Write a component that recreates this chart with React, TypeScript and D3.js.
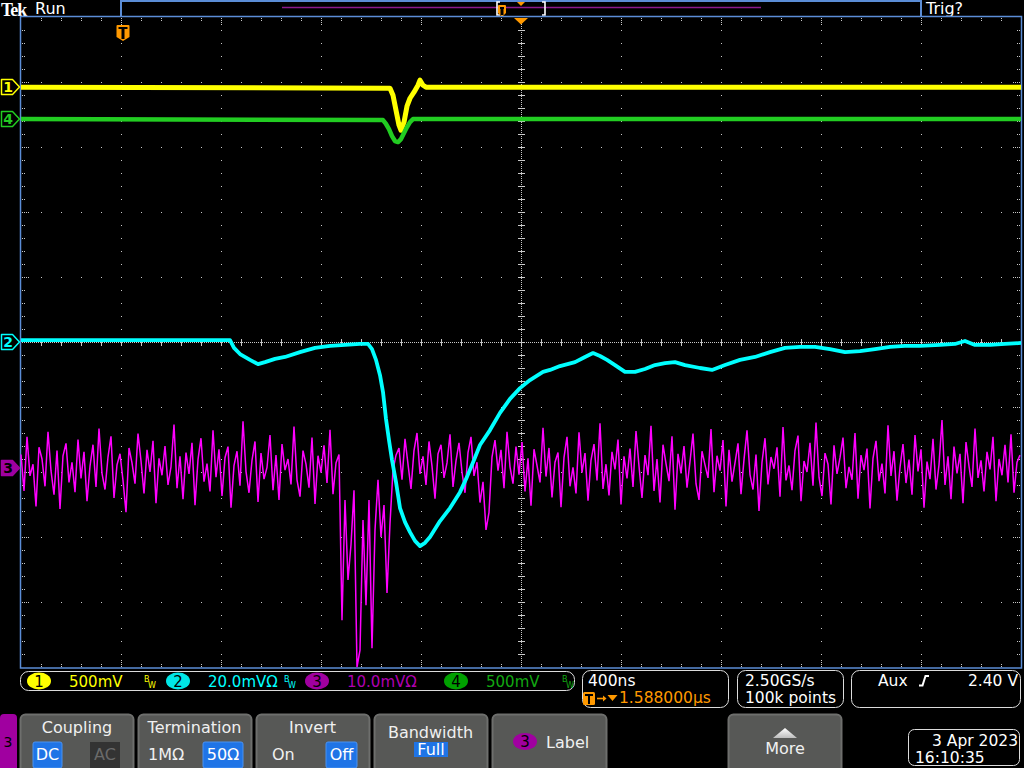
import React from "react";
import * as d3 from "d3";

// ---------- data ----------
// time axis: 400 ns/div, 10 div -> 0..4000 ns across the screen
const timeSpanNs = [0, 4000];

// channel positions (divisions from centre) and scales (mV/div)
const ch1Pos = 3.92;
const ch4Pos = 3.43;
const ch2Pos = 0;
const ch3Pos = -1.94;
const ch1Scale = 500;
const ch2Scale = 20;
const ch3Scale = 10;
const ch4Scale = 500;

// CH1 (yellow) – ns / mV
const ch1Times = [0, 1476, 1488, 1500, 1512, 1520, 1532, 1544, 1556, 1572, 1588, 1596, 1608, 1620, 4000];
const ch1mV = [0, -8, -62, -177, -292, -331, -269, -146, -85, -38, 15, 54, 15, 0, 0];

// CH4 (green)
const ch4Times = [0, 1448, 1460, 1472, 1484, 1496, 1508, 1520, 1532, 1544, 1556, 1568, 4000];
const ch4mV = [0, -8, -38, -77, -131, -169, -177, -154, -108, -62, -23, 0, 0];

// CH2 (cyan)
const ch2Times = [0, 836, 852, 876, 916, 948, 976, 1016, 1056, 1116, 1176, 1236, 1296, 1356, 1388, 1404, 1420, 1436, 1448, 1460,
  1472, 1484, 1500, 1516, 1536, 1556, 1576, 1596, 1616, 1636, 1676, 1716, 1756, 1784, 1812, 1836, 1876, 1916, 1956, 1996,
  2036, 2088, 2116, 2156, 2216, 2256, 2288, 2316, 2344, 2376, 2416, 2456, 2496, 2536, 2576, 2616, 2656, 2716, 2764, 2816,
  2876, 2936, 2996, 3056, 3116, 3176, 3236, 3296, 3356, 3416, 3476, 3536, 3596, 3676, 3736, 3776, 3816, 3876, 3936, 4000];
const ch2mV = [0.6, 0.6, -1.8, -3.7, -5.5, -6.8, -6.2, -5.2, -4.6, -3.1, -1.8, -1.2, -0.9, -0.6, -0.6, -2.2, -5.5, -10.2, -15.4, -23.7,
  -30.2, -36.3, -43.1, -51.1, -55.4, -58.5, -61.2, -62.8, -61.8, -60.0, -55.1, -51.1, -46.2, -41.5, -36.3, -31.7, -27.1, -21.8, -17.5, -14.2,
  -11.7, -9.2, -8.6, -7.4, -6.2, -4.6, -3.4, -4.3, -5.5, -7.1, -9.2, -9.2, -8.3, -7.1, -6.5, -6.2, -7.1, -8.0, -8.6, -7.1,
  -5.5, -4.6, -3.1, -1.8, -1.5, -1.5, -2.2, -3.1, -2.8, -2.2, -1.5, -1.2, -1.2, -0.9, -0.6, 0.3, -0.9, -0.9, -0.6, -0.3];

// CH3 (magenta) – one sample every 12 ns, mV
const ch3StepNs = 12;
const ch3mV = [
  2.1, -3.5, 4.8, -1.2, 0.6, -5.9, 3.2, 1.4, -2.8, 5.6, -0.4, -4.1, 2.7, -6.3, 1.9, 3.8, -2.2, 0.9, -3.7, 4.4,
  -1.6, 2.5, -5.1, 0.3, 3.6, -2.9, 6.1, -0.8, -3.3, 1.7, 4.9, -4.6, 0.5, 2.2, -1.9, -6.8, 3.1, 0.8, -2.4, 5.3,
  1.1, -3.9, 2.8, -0.6, 4.2, -5.4, 1.5, -1.1, 3.4, -2.6, 0.2, 6.7, -3.1, 1.8, -4.8, 2.4, -0.9, 3.9, -5.7, 1.3,
  4.6, -2.1, 0.7, -3.6, 5.8, -1.4, 2.9, -4.3, 1.6, 3.3, -6.1, 0.4, 2.6, -2.7, 7.2, -0.5, -3.8, 1.2, 4.1, -5.2,
  2.3, -1.7, 0.1, 5.1, -3.4, 2.0, -4.9, 3.7, -0.3, 1.4, -2.5, 6.4, -1.8, -4.4, 2.7, 0.6, -3.0, 4.7, -5.5, 1.9,
  -0.7, 3.5, -2.3, 5.9, -4.0, 0.8, 2.1,
  -23.4, -4.9, -17.2, -11.8, -3.4, -30.6, -28.0, -8.0, -21.1, -4.9, -27.7, -9.5, -1.8, -10.6, -5.7, -19.2, -8.5, -0.3, 2.0,
  3.1, -1.8, 4.5, 0.6, -3.2, 2.7, 5.4, -0.9, 1.8, -2.6, 4.1, 0.3, -4.7, 2.2, 3.6, -1.5, 0.8, 5.2, -2.9, 1.1,
  3.9, -0.6, -3.8, 2.4, 4.8, -1.2, 0.9, -5.3, -2.1, -9.5, -6.8, 1.7, 4.3, -0.4, 2.8, -3.1, 5.6, 0.2, -2.4, 3.3,
  -1.0,
  4.0, -3.6, 1.5, -5.8, 2.9, 0.4, -2.2, 6.2, -1.3, 3.1, -4.5, 0.9, 2.4, -6.0, 1.6, 4.8, -2.8, 0.1, -3.9, 5.5,
  -0.7, 2.3, -5.0, 1.2, 3.7, -1.9, 6.9, -3.2, 0.6, -4.2, 2.5, -0.2, 4.4, -5.6, 1.8, -1.6, 3.0, -2.9, 5.7, 0.3,
  -4.6, 2.0, -1.1, 6.5, -3.5, 1.4, -5.3, 3.6, 0.7, -2.0, 4.9, -6.4, 2.2, -0.8, 3.4, -3.0, 1.0, 5.3, -2.4, -4.9,
  2.6, 0.5, -1.5, 6.0, -3.7, 1.9, -0.4, 4.3, -5.9, 2.8, -2.1, 0.8, 3.8, -4.0, 1.3, 5.8, -1.0, -3.3, 2.1, -6.6,
  0.9, 4.6, -2.5, 1.7, -0.1, 3.2, -4.4, 6.3, -1.9, 0.4, -3.4, 2.7, 5.0, -5.1, 1.1, -0.6, 3.9, -2.7, 7.0, -1.4,
  -4.3, 2.3, 0.6, -5.6, 3.5, -0.9, 1.6, 4.7, -3.1, 0.2, -1.8, 5.4, -4.7, 2.0, -0.3, 3.0, -6.2, 1.5, 4.2, -2.0,
  0.7, -3.9, 6.6, -1.2, 2.6, -5.0, 0.1, 3.7, -2.3, 1.3, -4.1, 5.1, -0.5, 2.9, -6.1, 1.0, -1.7, 4.5, -3.3, 0.5,
  7.4, -2.6, 1.8, -4.8, 3.3, -0.8, 2.2, -5.4, 4.0, 0.3, -2.9, 6.1, -1.5, 1.2, -3.6, 2.5, -0.2, 4.8, -5.1, 1.4,
  -1.1, 3.6, -2.2, 5.2, -3.8, 0.9, 2.0,
];

// labels
const statusChannels = [
  { n: "1", text: "500mV", bw: true },
  { n: "2", text: "20.0mVΩ", bw: true },
  { n: "3", text: "10.0mVΩ", bw: false },
  { n: "4", text: "500mV", bw: true },
];
const timebaseText = "400ns";
const triggerPosText = "1.588000µs";
const sampleRateText = "2.50GS/s";
const recordText = "100k points";
const triggerSource = "Aux";
const triggerLevel = "2.40 V";
const dateText = "3 Apr 2023";
const timeText = "16:10:35";

// ---------- layout ----------
const PL = 21, PR = 1021, PT = 17, PB = 667;
const YEL = "#ffff00", CYN = "#00ffff", MAG = "#ff00ff", GRN = "#22cc22";
const ORANGE = "#ff9900";
const BLUE = "#5b8dd6";
const FONT = "'DejaVu Sans', Verdana, sans-serif";

const x = d3.scaleLinear().domain(timeSpanNs).range([PL, PR]);
const xDiv = d3.scaleLinear().domain([0, 10]).range([PL, PR]);
const yDiv = d3.scaleLinear().domain([-5, 5]).range([PB, PT]);

function trace(times: number[], vals: number[], pos: number, scale: number) {
  return d3
    .line<number>()
    .x((_, i) => x(times[i]))
    .y((v) => yDiv(pos + v / scale))(vals) as string;
}

function dot(px: number, py: number) {
  return `M${Math.round(px)},${Math.round(py)}h1v1h-1z`;
}

function graticule() {
  let p = "";
  const minorX = d3.range(1, 50).map((i) => xDiv(i * 0.2));
  const minorY = d3.range(1, 50).map((j) => yDiv(-5 + j * 0.2));
  d3.range(1, 10).forEach((k) => {
    if (k === 5) return;
    minorY.forEach((yy) => (p += dot(xDiv(k), yy)));
  });
  d3.range(1, 10).forEach((m) => {
    if (m === 5) return;
    minorX.forEach((xx) => (p += dot(xx, yDiv(-5 + m))));
  });
  const cx = Math.round(xDiv(5));
  const cy = Math.round(yDiv(0));
  for (let yy = PT + 1; yy < PB; yy += 2) p += dot(cx, yy);
  for (let xx = PL + 1; xx < PR; xx += 2) p += dot(xx, cy);
  minorY.forEach((yy) => {
    const r = Math.round(yy);
    p += `M${cx - 3},${r}h7v1h-7z`;
  });
  minorX.forEach((xx) => {
    const r = Math.round(xx);
    p += `M${r},${cy - 3}h1v7h-1z`;
  });
  minorX.forEach((xx, i) => {
    const major = (i + 1) % 5 === 0;
    const len = major ? 8 : 3;
    for (let d = 1; d <= len; d += 2) {
      p += dot(xx, PT + d);
      p += dot(xx, PB - d);
    }
  });
  minorY.forEach((yy, j) => {
    const major = (j + 1) % 5 === 0;
    const len = major ? 8 : 3;
    for (let d = 1; d <= len; d += 2) {
      p += dot(PL + d, yy);
      p += dot(PR - d - 1, yy);
    }
  });
  return p;
}

function ChannelMarker({ y, color, label, filled }: { y: number; color: string; label: string; filled?: boolean }) {
  const yy = Math.round(y);
  const d = `M1.5,${yy - 7.5} h11 l7,7.5 l-7,7.5 h-11 z`;
  return (
    <g>
      <path d={d} fill={filled ? "#a000a0" : "#000"} stroke={filled ? "#a000a0" : color} strokeWidth={1.5} strokeLinejoin="round" />
      <text x={8} y={yy + 5} textAnchor="middle" fontFamily={FONT} fontSize={14} fontWeight="bold" fill={filled ? "#000" : color}>
        {label}
      </text>
    </g>
  );
}

function TMarker({ cx, top, w, h }: { cx: number; top: number; w: number; h: number }) {
  const d = `M${cx - w / 2},${top + 1} q0,-1 1,-1 h${w - 2} q1,0 1,1 v${h - 4} l-${w / 2},4 l-${w / 2},-4 z`;
  return (
    <g>
      <path d={d} fill={ORANGE} />
      <path d={`M${cx - w / 2 + 2},${top + 2}h${w - 4}v2h-${(w - 4) / 2 - 1.5}v${h - 5}h-3v-${h - 5}h-${(w - 4) / 2 - 1.5}z`} fill="#000" />
    </g>
  );
}

function Button({ x0, w, children }: { x0: number; w: number; children?: React.ReactNode }) {
  return (
    <g>
      <rect x={x0 + 0.5} y={714.5} width={w} height={60} rx={5} fill="#575856" stroke="#6e6f6d" strokeWidth={2} />
      {children}
    </g>
  );
}

export default function App() {
  const ch3Times = d3.range(ch3mV.length).map((i) => i * ch3StepNs);
  const grat = graticule();
  const statusX = [
    { cx: 39, tx: 69, bx: 144, fill: YEL, txt: YEL },
    { cx: 178, tx: 208, bx: 284, fill: "#00e6e6", txt: CYN },
    { cx: 317, tx: 347, bx: 0, fill: "#a000a0", txt: "#b000b0" },
    { cx: 456, tx: 486, bx: 562, fill: "#00a000", txt: "#12a812" },
  ];
  return (
    <svg
      width={1024}
      height={768}
      viewBox="0 0 1024 768"
      style={{ position: "fixed", left: 0, top: 0, background: "#000", display: "block" }}
    >
      <rect x={0} y={0} width={1024} height={768} fill="#000" />

      {/* top bar */}
      <text x={1} y={16} fontFamily="'Liberation Serif', serif" fontWeight="bold" fontSize={18} letterSpacing={-1.1} fill="#fff">
        Tek
      </text>
      <text x={35} y={14} fontFamily={FONT} fontSize={16} fill="#fff">
        Run
      </text>
      <path d={`M121,17 V1 H921 V17`} fill="none" stroke={BLUE} strokeWidth={2} />
      <line x1={282} x2={761} y1={7.5} y2={7.5} stroke="#8c1a8c" strokeWidth={1.5} />
      <path d="M500,2 h-3 v13 h3" fill="none" stroke="#fff" strokeWidth={1.6} />
      <path d="M542,2 h3 v13 h-3" fill="none" stroke="#fff" strokeWidth={1.6} />
      <TMarker cx={502} top={5} w={8} h={11} />
      <path d="M517,2 h8 l-4,4 z" fill={ORANGE} />
      <text x={926} y={14} fontFamily={FONT} fontSize={16} fill="#fff">
        Trig?
      </text>

      {/* graticule */}
      <path d={grat} fill="#c8c8c8" />
      <rect x={PL - 0.5} y={PT - 0.5} width={PR - PL + 1} height={PB - PT + 1.5} fill="none" stroke={BLUE} strokeWidth={1.5} />

      {/* markers */}
      <TMarker cx={123} top={25} w={13} h={15} />
      <path d={`M${xDiv(5) - 7},${PT + 1} h14 l-7,6.5 z`} fill={ORANGE} />

      {/* traces */}
      <path d={trace(ch3Times, ch3mV, ch3Pos, ch3Scale)} fill="none" stroke={MAG} strokeWidth={1.5} strokeLinejoin="miter" />
      <path d={trace(ch2Times, ch2mV, ch2Pos, ch2Scale)} fill="none" stroke={CYN} strokeWidth={3.8} strokeLinejoin="round" />
      <path d={trace(ch1Times, ch1mV, ch1Pos, ch1Scale)} fill="none" stroke={YEL} strokeWidth={5} strokeLinejoin="round" />
      <path d={trace(ch4Times, ch4mV, ch4Pos, ch4Scale)} fill="none" stroke={GRN} strokeWidth={4.5} strokeLinejoin="round" />

      <ChannelMarker y={yDiv(ch1Pos)} color={YEL} label="1" />
      <ChannelMarker y={yDiv(ch4Pos)} color={GRN} label="4" />
      <ChannelMarker y={yDiv(ch2Pos)} color={CYN} label="2" />
      <ChannelMarker y={yDiv(ch3Pos)} color={MAG} label="3" filled />

      {/* status bar */}
      <rect x={20.5} y={671.5} width={554} height={19} rx={8} fill="none" stroke="#dcdcdc" strokeWidth={1} />
      {statusChannels.map((c, i) => {
        const s = statusX[i];
        return (
          <g key={c.n}>
            <ellipse cx={s.cx} cy={681} rx={12} ry={8.5} fill={s.fill} />
            <text x={s.cx} y={687} textAnchor="middle" fontFamily={FONT} fontSize={15} fill="#000">
              {c.n}
            </text>
            <text x={s.tx} y={687} fontFamily={FONT} fontSize={15} fill={s.txt}>
              {c.text}
            </text>
            {c.bw && (
              <text fontFamily={FONT} fontSize={8} fill={s.txt}>
                <tspan x={s.bx} y={682}>B</tspan>
                <tspan x={s.bx + 4} y={688}>W</tspan>
              </text>
            )}
          </g>
        );
      })}

      {/* timebase boxes */}
      <rect x={582.5} y={670.5} width={146} height={37} rx={8} fill="none" stroke="#dcdcdc" />
      <text x={588} y={686} fontFamily={FONT} fontSize={15.5} fill="#fff">
        {timebaseText}
      </text>
      <rect x={583} y={692} width={12} height={13} rx={1.5} fill={ORANGE} />
      <path d="M585,694 h8 v2 h-3 v8 h-2 v-8 h-3 z" fill="#000" />
      <path d="M597,698.5 h7" stroke={ORANGE} strokeWidth={1.6} />
      <path d="M603,695.5 l3.5,3 l-3.5,3 z" fill={ORANGE} />
      <path d="M607.5,695 h10 l-5,6 z" fill={ORANGE} />
      <text x={619} y={703} fontFamily={FONT} fontSize={15.5} fill={ORANGE}>
        {triggerPosText}
      </text>

      <rect x={737.5} y={670.5} width={106} height={37} rx={8} fill="none" stroke="#dcdcdc" />
      <text x={745} y={686} fontFamily={FONT} fontSize={15.5} fill="#fff">
        {sampleRateText}
      </text>
      <text x={745} y={703} fontFamily={FONT} fontSize={15.5} fill="#fff">
        {recordText}
      </text>

      <rect x={851.5} y={670.5} width={169} height={37} rx={8} fill="none" stroke="#dcdcdc" />
      <text x={878} y={686} fontFamily={FONT} fontSize={15.5} fill="#fff">
        {triggerSource}
      </text>
      <path d="M919,685.5 h3.5 l3,-9.5 h3.5" fill="none" stroke="#fff" strokeWidth={2} />
      <text x={1018} y={686} textAnchor="end" fontFamily={FONT} fontSize={15.5} fill="#fff">
        {triggerLevel}
      </text>

      {/* bottom menu */}
      <rect x={0} y={714} width={17} height={60} rx={4} fill="#a000a0" />
      <text x={8} y={747} textAnchor="middle" fontFamily={FONT} fontSize={14} fill="#000">
        3
      </text>

      <Button x0={20} w={113}>
        <text x={77} y={733} textAnchor="middle" fontFamily={FONT} fontSize={16} fill="#f0f0f0">Coupling</text>
        <rect x={33} y={742} width={29} height={26} rx={2} fill="#1f74e6" stroke="#4b92f0" />
        <text x={47.5} y={760} textAnchor="middle" fontFamily={FONT} fontSize={16} fill="#fff">DC</text>
        <rect x={90} y={742} width={30} height={26} fill="#333" />
        <text x={105} y={760} textAnchor="middle" fontFamily={FONT} fontSize={16} fill="#6a6a6a">AC</text>
      </Button>
      <Button x0={138} w={113}>
        <text x={194.5} y={733} textAnchor="middle" fontFamily={FONT} fontSize={16} fill="#f0f0f0">Termination</text>
        <text x={148} y={760} fontFamily={FONT} fontSize={16} fill="#f0f0f0">1MΩ</text>
        <rect x={203} y={742} width={40} height={26} rx={2} fill="#1f74e6" stroke="#4b92f0" />
        <text x={223} y={760} textAnchor="middle" fontFamily={FONT} fontSize={16} fill="#fff">50Ω</text>
      </Button>
      <Button x0={256} w={113}>
        <text x={312.5} y={733} textAnchor="middle" fontFamily={FONT} fontSize={16} fill="#f0f0f0">Invert</text>
        <text x={272} y={760} fontFamily={FONT} fontSize={16} fill="#f0f0f0">On</text>
        <rect x={326} y={742} width={31} height={26} rx={2} fill="#1f74e6" stroke="#4b92f0" />
        <text x={341.5} y={760} textAnchor="middle" fontFamily={FONT} fontSize={16} fill="#fff">Off</text>
      </Button>
      <Button x0={374} w={113}>
        <text x={430.5} y={738} textAnchor="middle" fontFamily={FONT} fontSize={16} fill="#f0f0f0">Bandwidth</text>
        <rect x={414} y={742} width={34} height={15} fill="#1f74e6" />
        <text x={431} y={755} textAnchor="middle" fontFamily={FONT} fontSize={16} fill="#fff">Full</text>
      </Button>
      <Button x0={492} w={114}>
        <ellipse cx={525} cy={741.5} rx={12} ry={8.5} fill="#a000a0" />
        <text x={525} y={747} textAnchor="middle" fontFamily={FONT} fontSize={15} fill="#000">3</text>
        <text x={546} y={748} fontFamily={FONT} fontSize={16} fill="#f0f0f0">Label</text>
      </Button>
      <Button x0={728} w={113}>
        <defs>
          <linearGradient id="tri" x1="0" x2="0" y1="0" y2="1">
            <stop offset="0" stopColor="#ffffff" />
            <stop offset="1" stopColor="#bdbdbd" />
          </linearGradient>
        </defs>
        <path d="M773,738 h24 l-12,-10 z" fill="url(#tri)" />
        <text x={785} y={754} textAnchor="middle" fontFamily={FONT} fontSize={16} fill="#f0f0f0">More</text>
      </Button>

      <rect x={908.5} y={729.5} width={111} height={36} rx={6} fill="none" stroke="#dcdcdc" />
      <text x={1018} y={746} textAnchor="end" fontFamily={FONT} fontSize={15.5} fill="#fff">
        {dateText}
      </text>
      <text x={915} y={763} fontFamily={FONT} fontSize={15.5} fill="#fff">
        {timeText}
      </text>
    </svg>
  );
}
